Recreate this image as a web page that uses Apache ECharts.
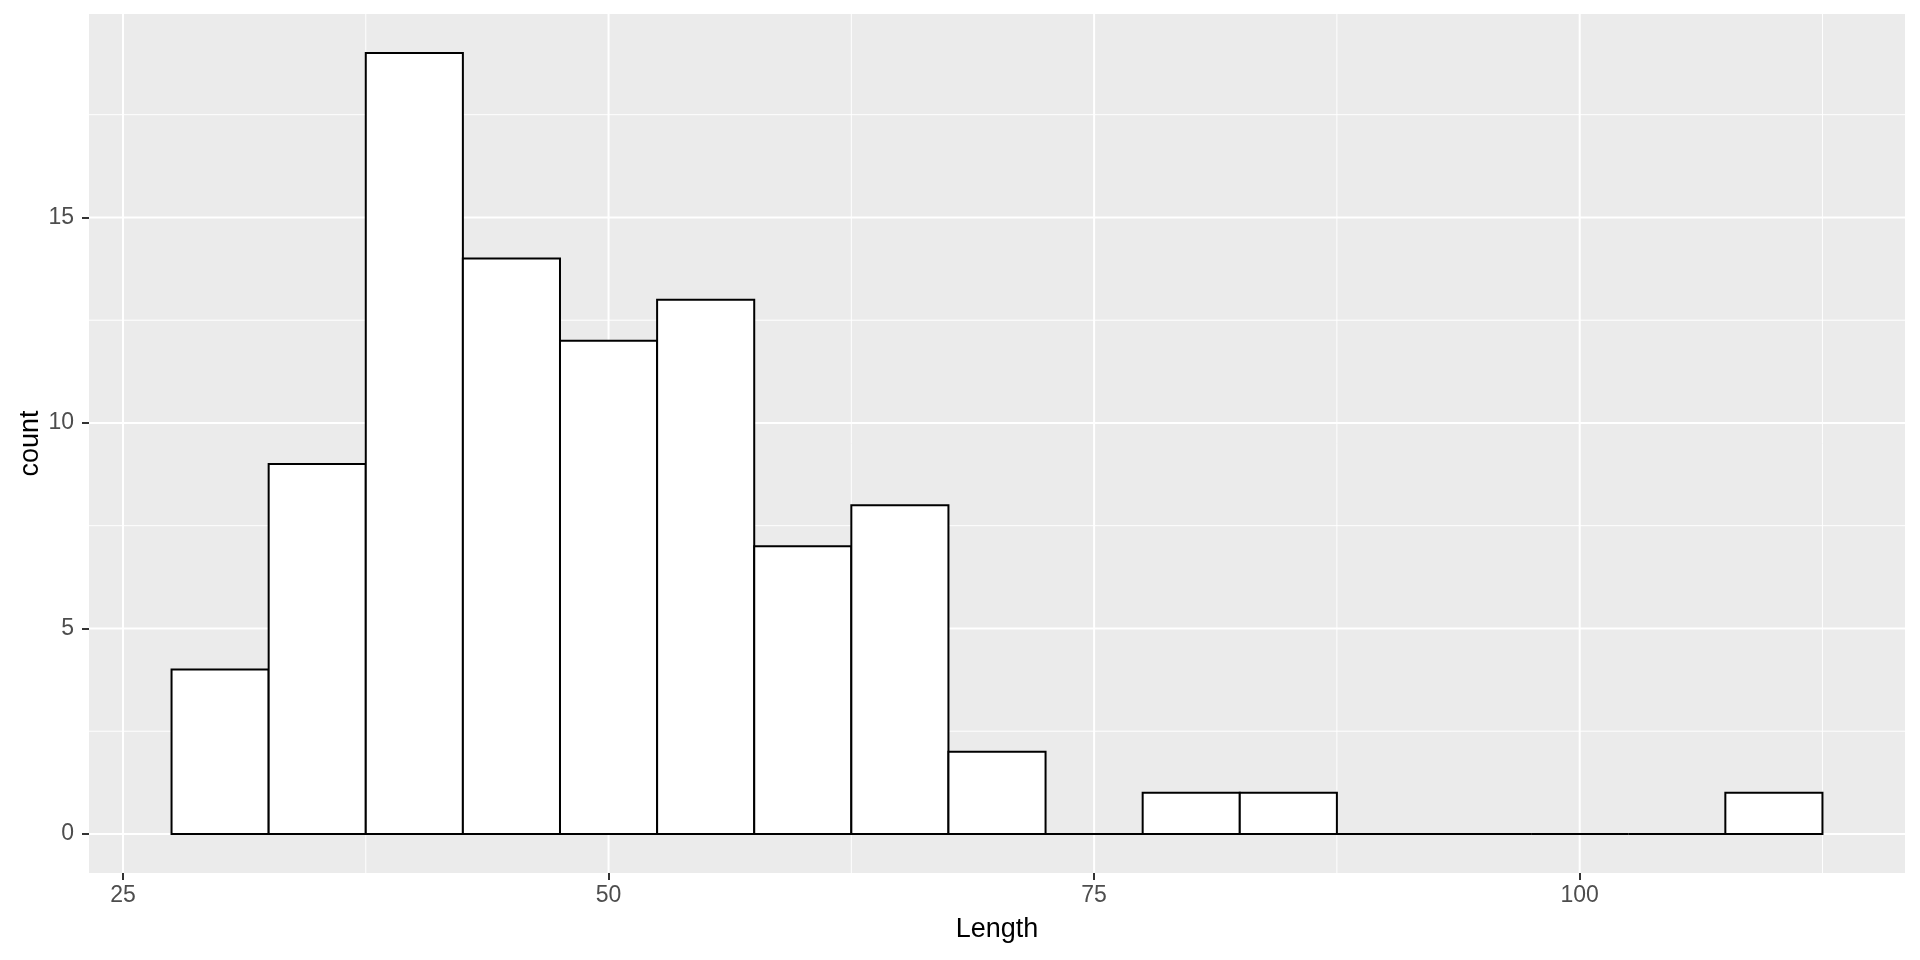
<!DOCTYPE html>
<html>
<head>
<meta charset="utf-8">
<script src="https://cdn.jsdelivr.net/npm/echarts@6/dist/echarts.min.js"></script>
<style>
  html, body { margin: 0; padding: 0; background: #fff; }
  #main { width: 1920px; height: 960px; }
</style>
</head>
<body>
<div id="main"></div>
<script>
// histogram of Length, binwidth 5
const binCenters = [30, 35, 40, 45, 50, 55, 60, 65, 70, 75, 80, 85, 90, 95, 100, 105, 110];
const counts = [4, 9, 19, 14, 12, 13, 7, 8, 2, 0, 1, 1, 0, 0, 0, 0, 1];
const binWidth = 5;

const xTicks = [25, 50, 75, 100];
const xMinor = [37.5, 62.5, 87.5, 112.5];
const yTicks = [0, 5, 10, 15];
const yMinor = [2.5, 7.5, 12.5, 17.5];

const xMin = 23.25, xMax = 116.75;
const yMin = -0.95, yMax = 19.95;

const histData = binCenters.map((c, i) => [c, counts[i]]);
// [direction (0 = vertical, 1 = horizontal), value, line width]
const gridLines = []
  .concat(xTicks.map(v => [0, v, 2]))
  .concat(xMinor.map(v => [0, v, 1]))
  .concat(yTicks.map(v => [1, v, 2]))
  .concat(yMinor.map(v => [1, v, 1]));

const chart = echarts.init(document.getElementById('main'));

const labelFont = 'Liberation Sans, Arial, sans-serif';

const option = {
  animation: false,
  grid: {
    left: 89, right: 15, top: 14, bottom: 87,
    show: true,
    backgroundColor: '#EBEBEB',
    borderWidth: 0
  },
  xAxis: {
    type: 'value',
    min: xMin,
    max: xMax,
    name: 'Length',
    nameLocation: 'middle',
    nameGap: 43,
    nameMoveOverlap: false,
    nameTextStyle: { color: '#000', fontSize: 27, fontFamily: labelFont },
    axisLine: { show: false, onZero: false },
    axisTick: { show: true, length: 7, lineStyle: { color: '#333333', width: 2 }, customValues: xTicks },
    axisLabel: { color: '#4D4D4D', fontSize: 23, fontFamily: labelFont, margin: 11, customValues: xTicks },
    splitLine: { show: false }
  },
  yAxis: {
    type: 'value',
    min: yMin,
    max: yMax,
    name: 'count',
    nameLocation: 'middle',
    nameGap: 45,
    nameMoveOverlap: false,
    nameTextStyle: { color: '#000', fontSize: 27, fontFamily: labelFont },
    axisLine: { show: false, onZero: false },
    axisTick: { show: true, length: 7, lineStyle: { color: '#333333', width: 2 }, customValues: yTicks },
    axisLabel: { color: '#4D4D4D', fontSize: 23, fontFamily: labelFont, margin: 15, customValues: yTicks },
    splitLine: { show: false }
  },
  series: [
    {
      // panel grid lines
      type: 'custom',
      silent: true,
      z: 1,
      data: gridLines,
      renderItem: function (params, api) {
        const cs = params.coordSys;
        const dir = api.value(0);
        const v = api.value(1);
        const w = api.value(2);
        let shape;
        if (dir === 0) {
          const px = api.coord([v, 0])[0];
          shape = { x1: px, y1: cs.y, x2: px, y2: cs.y + cs.height };
        } else {
          const py = api.coord([xMin, v])[1];
          shape = { x1: cs.x, y1: py, x2: cs.x + cs.width, y2: py };
        }
        return {
          type: 'line',
          shape: shape,
          style: { stroke: '#FFFFFF', lineWidth: w }
        };
      },
      encode: { x: 1 }
    },
    {
      type: 'custom',
      z: 2,
      data: histData,
      renderItem: function (params, api) {
        const c = api.value(0);
        const n = api.value(1);
        const tl = api.coord([c - binWidth / 2, n]);
        const br = api.coord([c + binWidth / 2, 0]);
        return {
          type: 'rect',
          shape: { x: tl[0], y: tl[1], width: br[0] - tl[0], height: br[1] - tl[1] },
          style: { fill: '#FFFFFF', stroke: '#000000', lineWidth: 2 }
        };
      },
      encode: { x: 0, y: 1 }
    }
  ]
};

chart.setOption(option);
</script>
</body>
</html>
